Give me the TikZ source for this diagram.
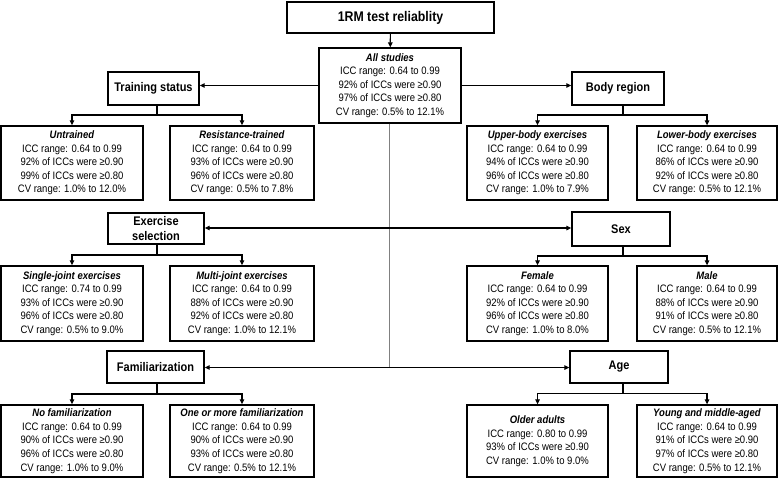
\documentclass[tikz,border=0pt]{standalone}
\usepackage{fontspec}
\setmainfont{Liberation Sans}[FakeStretch=0.88]
\usetikzlibrary{arrows.meta}
\begin{document}
\begin{tikzpicture}[x=1pt,y=-1pt,
  box/.style={draw, line width=1.3pt, inner sep=0pt, align=center},
  info/.style={box, font=\fontsize{10.8}{13.6}\selectfont},
  head/.style={box, font=\fontsize{12.5}{15.5}\selectfont\bfseries},
  line/.style={line width=1.2pt},
  conn/.style={line width=1.2pt, -{Triangle[length=5pt,width=4.5pt]}},
  dconn/.style={line width=1.2pt, {Triangle[length=5pt,width=4.5pt]}-{Triangle[length=5pt,width=4.5pt]}},
]
\useasboundingbox (0,0) rectangle (779,480);
\newcommand\ttl[1]{\textbf{\textit{#1}}}

% top
\node[box, font=\fontsize{14}{16}\selectfont\bfseries, minimum width=207pt, minimum height=31pt] (title) at (390.5,17.5) {1RM test reliablity};
\node[info, minimum width=142pt, minimum height=75pt] (all) at (390,85.5)
  {\ttl{All studies}\\ICC range: 0.64 to 0.99\\92\% of ICCs were ≥0.90\\97\% of ICCs were ≥0.80\\CV range: 0.5\% to 12.1\%};

% headings
\node[head, minimum width=91pt, minimum height=33pt] (train) at (153.5,88.5) {Training status};
\node[head, minimum width=96pt, minimum height=31pt] (exer) at (156,228.5) {Exercise\\selection};
\node[head, minimum width=97pt, minimum height=32pt] (fam) at (155.5,367) {Familiarization};
\node[head, minimum width=92pt, minimum height=33pt] (body) at (618,88.5) {Body region};
\node[head, minimum width=98pt, minimum height=34pt] (sex) at (621,229) {Sex};
\node[head, minimum width=98pt, minimum height=32pt] (age) at (619,367) {Age};

% row 1
\node[info, minimum width=142pt, minimum height=74pt] (untr) at (72,163)
  {\ttl{Untrained}\\ICC range: 0.64 to 0.99\\92\% of ICCs were ≥0.90\\99\% of ICCs were ≥0.80\\CV range: 1.0\% to 12.0\%};
\node[info, minimum width=144pt, minimum height=74pt] (rt) at (242,163)
  {\ttl{Resistance-trained}\\ICC range: 0.64 to 0.99\\93\% of ICCs were ≥0.90\\96\% of ICCs were ≥0.80\\CV range: 0.5\% to 7.8\%};
\node[info, minimum width=141pt, minimum height=74pt] (upper) at (537.5,163)
  {\ttl{Upper-body exercises}\\ICC range: 0.64 to 0.99\\94\% of ICCs were ≥0.90\\96\% of ICCs were ≥0.80\\CV range: 1.0\% to 7.9\%};
\node[info, minimum width=140pt, minimum height=74pt] (lower) at (707,163)
  {\ttl{Lower-body exercises}\\ICC range: 0.64 to 0.99\\86\% of ICCs were ≥0.90\\92\% of ICCs were ≥0.80\\CV range: 0.5\% to 12.1\%};

% row 2
\node[info, minimum width=142pt, minimum height=75pt] (single) at (72,303.5)
  {\ttl{Single-joint exercises}\\ICC range: 0.74 to 0.99\\93\% of ICCs were ≥0.90\\96\% of ICCs were ≥0.80\\CV range: 0.5\% to 9.0\%};
\node[info, minimum width=144pt, minimum height=75pt] (multi) at (242,303.5)
  {\ttl{Multi-joint exercises}\\ICC range: 0.64 to 0.99\\88\% of ICCs were ≥0.90\\92\% of ICCs were ≥0.80\\CV range: 1.0\% to 12.1\%};
\node[info, minimum width=141pt, minimum height=75pt] (female) at (537.5,303.5)
  {\ttl{Female}\\ICC range: 0.64 to 0.99\\92\% of ICCs were ≥0.90\\96\% of ICCs were ≥0.80\\CV range: 1.0\% to 8.0\%};
\node[info, minimum width=140pt, minimum height=75pt] (male) at (707,303.5)
  {\ttl{Male}\\ICC range: 0.64 to 0.99\\88\% of ICCs were ≥0.90\\91\% of ICCs were ≥0.80\\CV range: 0.5\% to 12.1\%};

% row 3
\node[info, minimum width=142pt, minimum height=72pt] (nofam) at (72,441)
  {\ttl{No familiarization}\\ICC range: 0.64 to 0.99\\90\% of ICCs were ≥0.90\\96\% of ICCs were ≥0.80\\CV range: 1.0\% to 9.0\%};
\node[info, minimum width=144pt, minimum height=72pt] (onefam) at (242,441)
  {\ttl{One or more familiarization}\\ICC range: 0.64 to 0.99\\90\% of ICCs were ≥0.90\\93\% of ICCs were ≥0.80\\CV range: 0.5\% to 12.1\%};
\node[info, minimum width=141pt, minimum height=72pt] (older) at (537.5,441)
  {\ttl{Older adults}\\ICC range: 0.80 to 0.99\\93\% of ICCs were ≥0.90\\CV range: 1.0\% to 9.0\%};
\node[info, minimum width=140pt, minimum height=72pt] (young) at (707,441)
  {\ttl{Young and middle-aged}\\ICC range: 0.64 to 0.99\\91\% of ICCs were ≥0.90\\97\% of ICCs were ≥0.80\\CV range: 0.5\% to 12.1\%};

% central connectors
\coordinate (m2) at (389,228);
\coordinate (m3) at (389,367.5);
\draw[gray, line width=1pt] (all.south -| m2) -- (m3);
\draw[conn] (title) -- (all);
\draw[conn] (all.west) -- (all.west -| train.east);
\draw[conn] (all.east) -- (all.east -| body.west);
\draw[dconn] (exer.east |- m2) -- (sex.west |- m2);
\draw[dconn] (fam.east |- m3) -- (age.west |- m3);

% forks
\coordinate (lf1) at (157,115);
\coordinate (lf2) at (157,255);
\coordinate (lf3) at (157,394);
\coordinate (rf1) at (623,115);
\coordinate (rf2) at (623,256);
\coordinate (rf3) at (623,393.5);
\draw[line] (train.south -| lf1) -- (lf1);
\draw[line] (exer.south -| lf2) -- (lf2);
\draw[line] (fam.south -| lf3) -- (lf3);
\draw[line] (body.south -| rf1) -- (rf1);
\draw[line] (sex.south -| rf2) -- (rf2);
\draw[line] (age.south -| rf3) -- (rf3);
\draw[conn] (lf1) -| (untr.north);
\draw[conn] (lf1) -| (rt.north);
\draw[conn] (lf2) -| (single.north);
\draw[conn] (lf2) -| (multi.north);
\draw[conn] (lf3) -| (nofam.north);
\draw[conn] (lf3) -| (onefam.north);
\draw[conn] (rf1) -| (upper.north);
\draw[conn] (rf1) -| (lower.north);
\draw[conn] (rf2) -| (female.north);
\draw[conn] (rf2) -| (male.north);
\draw[conn] (rf3) -| (older.north);
\draw[conn] (rf3) -| (young.north);
\end{tikzpicture}
\end{document}
